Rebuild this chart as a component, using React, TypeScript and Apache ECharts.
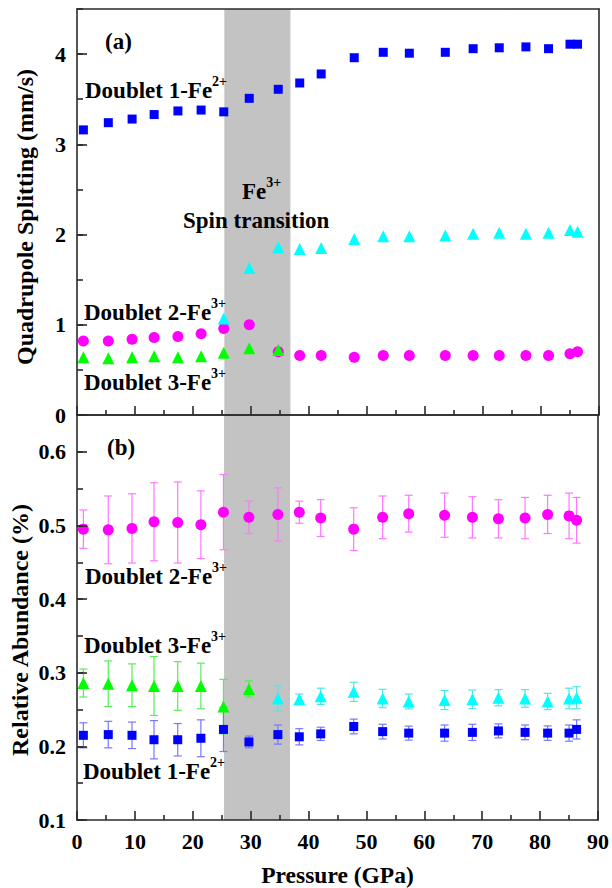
import React, { useEffect, useRef } from 'react';
import * as echarts from 'echarts';

// ---------- data ----------
const pressure = [1.1, 5.4, 9.5, 13.3, 17.4, 21.4, 25.3, 29.7, 34.7, 38.4, 42.1, 47.8, 52.8, 57.3, 63.5, 68.3, 72.8, 77.4, 81.3, 85.0, 86.3];

// (a) quadrupole splitting
const qsDoublet1 = [3.16, 3.24, 3.28, 3.33, 3.37, 3.38, 3.36, 3.51, 3.61, 3.68, 3.78, 3.96, 4.02, 4.01, 4.02, 4.06, 4.07, 4.08, 4.06, 4.11, 4.11];
const qsDoublet2 = [0.82, 0.82, 0.84, 0.86, 0.87, 0.90, 0.96, 1.00, 0.70, 0.66, 0.66, 0.64, 0.66, 0.66, 0.66, 0.66, 0.66, 0.66, 0.66, 0.68, 0.70];
const qsDoublet3HS = [0.64, 0.63, 0.64, 0.65, 0.64, 0.65, 0.69, 0.74, 0.72]; // from pressure index 0
const qsDoublet3LSStart = 6;
const qsDoublet3LS = [1.07, 1.63, 1.86, 1.84, 1.85, 1.95, 1.98, 1.98, 1.99, 2.01, 2.02, 2.01, 2.02, 2.05, 2.03];

// (b) relative abundance
const raDoublet2 = [0.495, 0.494, 0.496, 0.505, 0.504, 0.501, 0.518, 0.511, 0.515, 0.518, 0.510, 0.495, 0.511, 0.516, 0.514, 0.511, 0.509, 0.510, 0.515, 0.513, 0.507];
const raDoublet2Err = [0.026, 0.046, 0.047, 0.053, 0.055, 0.046, 0.051, 0.022, 0.036, 0.015, 0.025, 0.029, 0.029, 0.025, 0.030, 0.028, 0.026, 0.028, 0.026, 0.031, 0.031];
const raDoublet3HS = [0.286, 0.285, 0.283, 0.282, 0.282, 0.282, 0.254, 0.278];
const raDoublet3HSErr = [0.019, 0.031, 0.029, 0.040, 0.033, 0.031, 0.037, 0.011];
const raDoublet3LSStart = 8;
const raDoublet3LS = [0.265, 0.264, 0.268, 0.274, 0.265, 0.261, 0.263, 0.264, 0.266, 0.265, 0.261, 0.265, 0.266];
const raDoublet3LSErr = [0.017, 0.007, 0.011, 0.013, 0.0125, 0.010, 0.013, 0.0125, 0.011, 0.012, 0.011, 0.014, 0.015];
const raDoublet1 = [0.215, 0.216, 0.215, 0.209, 0.209, 0.211, 0.223, 0.206, 0.216, 0.213, 0.217, 0.227, 0.220, 0.218, 0.218, 0.219, 0.221, 0.219, 0.218, 0.218, 0.223];
const raDoublet1Err = [0.017, 0.018, 0.018, 0.026, 0.022, 0.025, 0.030, 0.008, 0.013, 0.011, 0.009, 0.010, 0.010, 0.0095, 0.011, 0.011, 0.0095, 0.010, 0.0098, 0.011, 0.013];

const spinBand = [25.4, 36.8];
const xTicks = [0, 90, 10];
const qsTicks = [0, 4.5, 1];
const raTicks = [0.1, 0.65, 0.1];

// ---------- helpers ----------
const FONT = '"Liberation Serif", "Times New Roman", serif';
const AXIS_COLOR = '#2a2a2a';

const pts = (ys: number[], start = 0) => ys.map((y, i) => [pressure[i + start], y]);
const errPts = (ys: number[], es: number[], start = 0) => ys.map((y, i) => [pressure[i + start], y, es[i]]);

const errorSeries = (data: number[][], color: string, xi: number, yi: number) => ({
  type: 'custom',
  xAxisIndex: xi,
  yAxisIndex: yi,
  z: 3,
  silent: true,
  encode: { x: 0, y: 1 },
  data,
  renderItem: (params: any, api: any) => {
    const x = api.value(0);
    const y = api.value(1);
    const e = api.value(2);
    const t = api.coord([x, y + e]);
    const b = api.coord([x, y - e]);
    const hw = 4;
    const st = { stroke: color, lineWidth: 1.2 };
    return {
      type: 'group',
      children: [
        { type: 'line', shape: { x1: t[0], y1: t[1], x2: b[0], y2: b[1] }, style: st },
        { type: 'line', shape: { x1: t[0] - hw, y1: t[1], x2: t[0] + hw, y2: t[1] }, style: st },
        { type: 'line', shape: { x1: b[0] - hw, y1: b[1], x2: b[0] + hw, y2: b[1] }, style: st },
      ],
    };
  },
});

const scatter = (data: number[][], symbol: string, size: number, color: string, xi: number, yi: number) => ({
  type: 'scatter',
  xAxisIndex: xi,
  yAxisIndex: yi,
  symbol,
  symbolSize: size,
  itemStyle: { color, opacity: 1 },
  z: 4,
  silent: true,
  data,
});

const bandSeries = (xi: number, yi: number) => ({
  type: 'line',
  xAxisIndex: xi,
  yAxisIndex: yi,
  data: [],
  z: 1,
  silent: true,
  markArea: {
    silent: true,
    itemStyle: { color: '#c3c3c3', opacity: 1 },
    data: [[{ xAxis: spinBand[0] }, { xAxis: spinBand[1] }]],
  },
});

const label = (x: number, y: number, main: string, sup?: string) => ({
  type: 'text',
  x,
  y,
  z: 20,
  style: {
    text: sup ? `{m|${main}}{s|${sup}}` : `{m|${main}}`,
    verticalAlign: 'middle',
    align: 'left',
    rich: {
      m: { fontFamily: FONT, fontWeight: 'bold', fontSize: 23, lineHeight: 31, fill: '#000' },
      s: { fontFamily: FONT, fontWeight: 'bold', fontSize: 14, lineHeight: 14, verticalAlign: 'top', fill: '#000' },
    },
  },
});

const axisTitle = (x: number, y: number, text: string) => ({
  type: 'text',
  x,
  y,
  rotation: Math.PI / 2,
  z: 20,
  style: {
    text,
    align: 'center',
    verticalAlign: 'middle',
    fontFamily: FONT,
    fontWeight: 'bold',
    fontSize: 24,
    fill: '#000',
  },
});

const tickLabelStyle = { fontFamily: FONT, fontWeight: 'bold', fontSize: 22, color: '#000' };
const lineStyle = { color: AXIS_COLOR, width: 1.6 };

export default function App() {
  const ref = useRef<HTMLDivElement>(null);
  useEffect(() => {
    if (!ref.current) return;
    const chart = echarts.init(ref.current, undefined, { renderer: 'svg' });

    const xBase = (gi: number, pos: string, labels: boolean, ticks: boolean) => ({
      type: 'value',
      gridIndex: gi,
      position: pos,
      min: xTicks[0],
      max: xTicks[1],
      interval: xTicks[2],
      z: 10,
      axisLine: { show: true, onZero: false, lineStyle },
      axisTick: { show: ticks, inside: true, length: 9, lineStyle },
      minorTick: { show: ticks, splitNumber: 2, length: 5, lineStyle },
      axisLabel: { show: labels, margin: 10, ...tickLabelStyle },
      splitLine: { show: false },
      minorSplitLine: { show: false },
    });

    const yMajor = (gi: number, t: number[]) => ({
      type: 'value',
      gridIndex: gi,
      position: 'left',
      min: t[0],
      max: t[1],
      interval: t[2],
      z: 10,
      axisLine: { show: true, onZero: false, lineStyle },
      axisTick: { show: true, inside: true, length: 10, lineStyle },
      axisLabel: {
        show: true,
        margin: 11,
        showMaxLabel: false,
        formatter: (v: number) => (t[2] < 1 ? v.toFixed(1) : String(Math.round(v))),
        ...tickLabelStyle,
      },
      splitLine: { show: false },
    });

    const yMinor = (gi: number, t: number[]) => ({
      type: 'value',
      gridIndex: gi,
      position: 'left',
      min: t[0],
      max: t[1],
      interval: t[2] / 2,
      z: 10,
      axisLine: { show: false },
      axisTick: { show: true, inside: true, length: 6, lineStyle },
      axisLabel: { show: false },
      splitLine: { show: false },
    });

    const yRight = (gi: number, t: number[]) => ({
      type: 'value',
      gridIndex: gi,
      position: 'right',
      min: t[0],
      max: t[1],
      z: 10,
      axisLine: { show: true, onZero: false, lineStyle },
      axisTick: { show: false },
      axisLabel: { show: false },
      splitLine: { show: false },
    });

    const xBottom = {
      ...xBase(1, 'bottom', true, true),
      name: 'Pressure (GPa)',
      nameLocation: 'middle',
      nameGap: 43,
      nameTextStyle: { fontFamily: FONT, fontWeight: 'bold', fontSize: 23.5, color: '#000' },
    };

    const option: any = {
      animation: false,
      backgroundColor: '#fff',
      grid: [
        { left: 77, right: 13, top: 9, height: 406 },
        { left: 77, right: 13, top: 415, height: 405 },
      ],
      xAxis: [
        xBase(0, 'bottom', false, true),
        xBase(0, 'top', false, false),
        xBottom,
        xBase(1, 'top', false, false),
      ],
      yAxis: [
        yMajor(0, qsTicks),
        yMinor(0, qsTicks),
        yRight(0, qsTicks),
        yMajor(1, raTicks),
        yMinor(1, raTicks),
        yRight(1, raTicks),
      ],
      series: [
        bandSeries(0, 0),
        scatter(pts(qsDoublet2), 'circle', 11, '#ff00ff', 0, 0),
        scatter(pts(qsDoublet3HS), 'triangle', 12, '#00ff00', 0, 0),
        scatter(pts(qsDoublet3LS, qsDoublet3LSStart), 'triangle', 12, '#00ffff', 0, 0),
        scatter(pts(qsDoublet1), 'rect', 9, '#0000ff', 0, 0),

        bandSeries(2, 3),
        errorSeries(errPts(raDoublet2, raDoublet2Err), '#ff77ff', 2, 3),
        errorSeries(errPts(raDoublet3HS, raDoublet3HSErr), '#55ee55', 2, 3),
        errorSeries(errPts(raDoublet3LS, raDoublet3LSErr, raDoublet3LSStart), '#55e5e5', 2, 3),
        errorSeries(errPts(raDoublet1, raDoublet1Err), '#7777ff', 2, 3),
        scatter(pts(raDoublet2), 'circle', 11, '#ff00ff', 2, 3),
        scatter(pts(raDoublet3HS), 'triangle', 12, '#00ff00', 2, 3),
        scatter(pts(raDoublet3LS, raDoublet3LSStart), 'triangle', 12, '#00ffff', 2, 3),
        scatter(pts(raDoublet1), 'rect', 9, '#0000ff', 2, 3),
      ],
      graphic: [
        axisTitle(25, 217, 'Quadrupole Splitting (mm/s)'),
        axisTitle(20, 630, 'Relative Abundance (%)'),
        label(105, 41, '(a)'),
        label(85, 90, 'Doublet 1-Fe', '2+'),
        label(242, 191, 'Fe', '3+'),
        label(183, 220, 'Spin transition'),
        label(84, 312, 'Doublet 2-Fe', '3+'),
        label(84, 382, 'Doublet 3-Fe', '3+'),
        label(107, 447, '(b)'),
        label(85, 576, 'Doublet 2-Fe', '3+'),
        label(84, 645, 'Doublet 3-Fe', '3+'),
        label(83, 771, 'Doublet 1-Fe', '2+'),
      ],
    };
    chart.setOption(option);
    return () => chart.dispose();
  }, []);
  return <div ref={ref} style={{ position: 'absolute', left: 0, top: 0, width: 612, height: 888 }} />;
}
